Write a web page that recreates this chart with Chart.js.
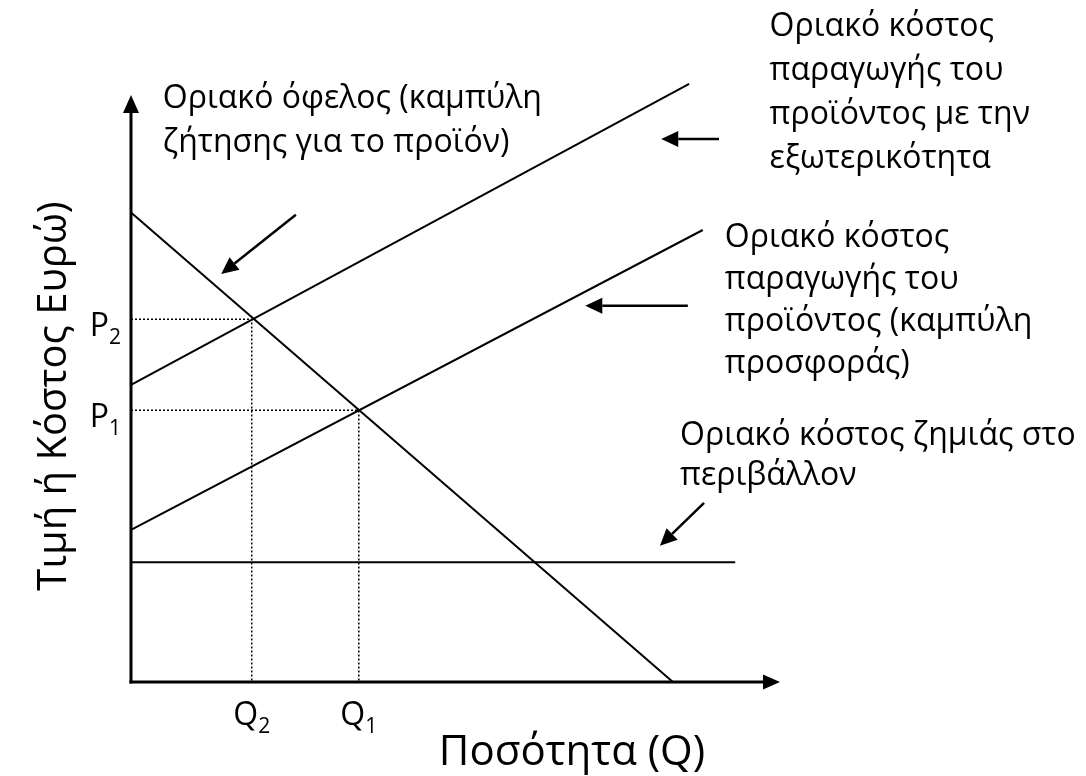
<!DOCTYPE html>
<html>
<head>
<meta charset="utf-8">
<script src="https://cdn.jsdelivr.net/npm/chart.js@4.4.1/dist/chart.umd.min.js"></script>
<style>
  html, body { margin: 0; padding: 0; background: #ffffff; }
  #wrap { width: 1086px; height: 776px; }
</style>
</head>
<body>
<div id="wrap"><canvas id="diagram" width="1086" height="776"></canvas></div>
<script>
// values in chart units: x = quantity (0-100), y = price / cost (0-100)
const demandLine   = [{ x: 0, y: 80 },   { x: 83.5, y: 0 }];
const supplyLine   = [{ x: 0, y: 25.9 }, { x: 88.1, y: 77 }];
const socialMCLine = [{ x: 0, y: 50.6 }, { x: 86, y: 101.9 }];
const damageLine   = [{ x: 0, y: 20.4 }, { x: 93.1, y: 20.4 }];

const Q1 = 35.1, P1 = 46.3;
const Q2 = 18.6, P2 = 61.8;

const priceTicks    = [{ text: 'P', sub: '2', value: P2 }, { text: 'P', sub: '1', value: P1 }];
const quantityTicks = [{ text: 'Q', sub: '2', value: Q2 }, { text: 'Q', sub: '1', value: Q1 }];

const xTitle = 'Ποσότητα (Q)';
const yTitle = 'Τιμή ή Κόστος Ευρώ)';

const labelDemand = ['Οριακό όφελος (καμπύλη', 'ζήτησης για το προϊόν)'];
const labelSocial = ['Οριακό κόστος', 'παραγωγής του', 'προϊόντος με την', 'εξωτερικότητα'];
const labelSupply = ['Οριακό κόστος', 'παραγωγής του', 'προϊόντος (καμπύλη', 'προσφοράς)'];
const labelDamage = ['Οριακό κόστος ζημιάς στο', 'περιβάλλον'];

// pointer arrows: from -> to (head at "to")
const pointerArrows = [
  [{ x: 25.4, y: 79.6 }, { x: 13.9, y: 69.5 }],
  [{ x: 90.6, y: 92.5 }, { x: 81.7, y: 92.5 }],
  [{ x: 85.8, y: 64.1 }, { x: 70.0, y: 64.1 }],
  [{ x: 88.3, y: 30.5 }, { x: 81.5, y: 23.2 }],
];

const FONT = '"Open Sans", "Noto Sans", sans-serif';

// where each label block starts (first baseline, chart units) and its line gap in px
const labelBlocks = [
  { lines: labelDemand, at: { x: 4.9, y: 97.8 },  gap: 44 },
  { lines: labelSocial, at: { x: 98.4, y: 110.0 }, gap: 44 },
  { lines: labelSupply, at: { x: 91.5, y: 74.1 },  gap: 42 },
  { lines: labelDamage, at: { x: 84.6, y: 40.4 },  gap: 40 },
];

function drawArrow(ctx, x1, y1, x2, y2, len, half, width) {
  const a = Math.atan2(y2 - y1, x2 - x1);
  const bx = x2 - len * Math.cos(a);
  const by = y2 - len * Math.sin(a);
  ctx.lineWidth = width;
  ctx.beginPath();
  ctx.moveTo(x1, y1);
  ctx.lineTo(bx, by);
  ctx.stroke();
  ctx.beginPath();
  ctx.moveTo(x2, y2);
  ctx.lineTo(bx + half * Math.sin(a), by - half * Math.cos(a));
  ctx.lineTo(bx - half * Math.sin(a), by + half * Math.cos(a));
  ctx.closePath();
  ctx.fill();
}

const diagramPlugin = {
  id: 'diagram',
  afterDatasetsDraw(chart) {
    const { ctx, scales: { x, y } } = chart;
    const px = (v) => x.getPixelForValue(v);
    const py = (v) => y.getPixelForValue(v);
    ctx.save();
    ctx.strokeStyle = '#000';
    ctx.fillStyle = '#000';

    // axes with arrow heads
    drawArrow(ctx, px(0), py(0) + 1.5, px(0), py(100), 18, 8, 3);
    drawArrow(ctx, px(0) - 1.5, py(0), px(100), py(0), 17, 7.5, 3);

    pointerArrows.forEach(([a, b]) => {
      drawArrow(ctx, px(a.x), py(a.y), px(b.x), py(b.y), 17, 8, 2.5);
    });

    // labels
    ctx.textAlign = 'left';
    ctx.textBaseline = 'alphabetic';
    ctx.font = '32px ' + FONT;
    labelBlocks.forEach((b) => {
      b.lines.forEach((line, i) => {
        ctx.fillText(line, px(b.at.x), py(b.at.y) + i * b.gap);
      });
    });

    // P and Q tick labels with subscripts
    const main = '32px ' + FONT;
    const sub = '21px ' + FONT;
    priceTicks.forEach((t) => {
      ctx.font = main;
      const w1 = ctx.measureText(t.text).width;
      ctx.font = sub;
      const w2 = ctx.measureText(t.sub).width;
      const right = px(0) - 10;
      const base = py(t.value) + 17;
      ctx.font = main;
      ctx.fillText(t.text, right - w1 - w2, base);
      ctx.font = sub;
      ctx.fillText(t.sub, right - w2, base + 8);
    });
    quantityTicks.forEach((t) => {
      ctx.font = main;
      const w1 = ctx.measureText(t.text).width;
      ctx.font = sub;
      const w2 = ctx.measureText(t.sub).width;
      const left = px(t.value) - (w1 + w2) / 2;
      const base = py(0) + 43;
      ctx.font = main;
      ctx.fillText(t.text, left, base);
      ctx.font = sub;
      ctx.fillText(t.sub, left + w1, base + 8);
    });

    // axis titles
    ctx.textAlign = 'center';
    ctx.font = '42px ' + FONT;
    ctx.fillText(xTitle, 572, py(0) + 83);
    ctx.save();
    ctx.font = '40px ' + FONT;
    ctx.translate(66, 396);
    ctx.rotate(-Math.PI / 2);
    ctx.fillText(yTitle, 0, 0);
    ctx.restore();

    ctx.restore();
  },
};

const solid = { borderColor: '#000', borderWidth: 2, pointRadius: 0, showLine: true, fill: false };
const dotted = { borderColor: '#000', borderWidth: 1.5, borderDash: [2, 2], pointRadius: 0, showLine: true, fill: false };

new Chart(document.getElementById('diagram').getContext('2d'), {
  type: 'scatter',
  data: {
    datasets: [
      { ...dotted, data: [{ x: 0, y: P2 }, { x: Q2, y: P2 }, { x: Q2, y: 0 }] },
      { ...dotted, data: [{ x: 0, y: P1 }, { x: Q1, y: P1 }, { x: Q1, y: 0 }] },
      { ...solid, data: demandLine },
      { ...solid, data: supplyLine },
      { ...solid, data: socialMCLine },
      { ...solid, data: damageLine },
    ],
  },
  options: {
    responsive: false,
    animation: false,
    clip: false,
    layout: { padding: { left: 131, right: 306, top: 95, bottom: 94 } },
    plugins: { legend: { display: false }, tooltip: { enabled: false } },
    scales: {
      x: { type: 'linear', min: 0, max: 100, display: false },
      y: { type: 'linear', min: 0, max: 100, display: false },
    },
  },
  plugins: [diagramPlugin],
});
</script>
</body>
</html>
